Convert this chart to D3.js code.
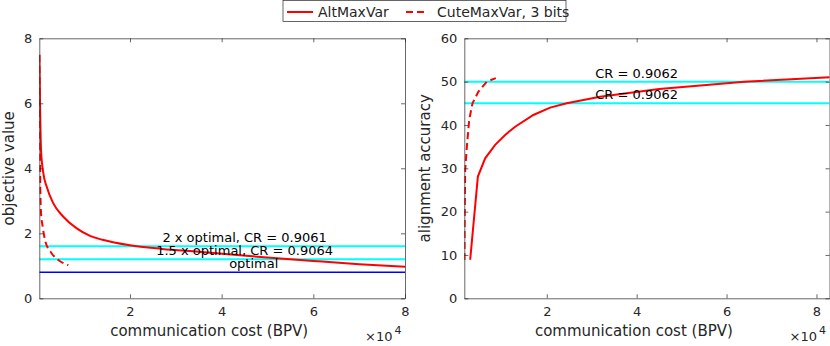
<!DOCTYPE html>
<html>
<head>
<meta charset="utf-8">
<script src="https://cdn.jsdelivr.net/npm/d3@7"></script>
<style>
  body { margin: 0; background: #fff; }
  svg text { font-family: "DejaVu Sans", "Liberation Sans", sans-serif; fill: #262626; }
</style>
</head>
<body>
<div id="wrapper"></div>
<script>
// ---- data ----
const objAltX = [220, 590, 1090, 1830, 3270, 5450, 8380, 11280, 14000, 20000, 27000, 35000, 46000, 60000, 70000, 80000]
const objAltY = [7.49, 4.56, 3.85, 3.43, 2.92, 2.51, 2.15, 1.92, 1.8, 1.63, 1.52, 1.43, 1.3, 1.15, 1.05, 0.97]
const objCuteX = [218, 300, 370, 440, 590, 960, 1460, 2920, 4360, 6550]
const objCuteY = [7.49, 5.8, 4.56, 3.33, 2.62, 2.2, 1.79, 1.38, 1.18, 1.02]

const accAltX = [2960, 4670, 6290, 8510, 10730, 12960, 17020, 20730, 24440, 31850, 45000, 64000, 83000]
const accAltY = [8.9, 28.1, 32.3, 35.4, 37.7, 39.6, 42.3, 44.0, 45.0, 46.5, 48.3, 50.0, 51.0]
const accCuteX = [1690, 1750, 1850, 2220, 2730, 3470, 4800, 6670, 8670]
const accCuteY = [8.85, 20, 29.6, 35, 41.1, 45, 47.7, 50, 50.8]

const xTicks = [20000, 40000, 60000, 80000]
const objTicks = [0, 2, 4, 6, 8]
const accTicks = [0, 10, 20, 30, 40, 50, 60]

const objRefLines = [
  { y: 1.6, color: "#00ffff", label: "2 x optimal, CR = 0.9061", lx: 45000 },
  { y: 1.2, color: "#00ffff", label: "1.5 x optimal, CR = 0.9064", lx: 45000 },
  { y: 0.8, color: "#0000ff", label: "optimal", lx: 47000 },
]
const accRefLines = [
  { y: 50, color: "#00ffff", label: "CR = 0.9062", lx: 40000 },
  { y: 45, color: "#00ffff", label: "CR = 0.9062", lx: 40000 },
]

const legendItems = ["AltMaxVar", "CuteMaxVar, 3 bits"]

// ---- canvas ----
const width = 830
const height = 346
const svg = d3.select("#wrapper").append("svg")
  .attr("width", width)
  .attr("height", height)

const axisColor = "#262626"

function drawPanel(cfg) {
  const xScale = d3.scaleLinear().domain(cfg.xDomain).range([cfg.left, cfg.right])
  const yScale = d3.scaleLinear().domain(cfg.yDomain).range([cfg.bottom, cfg.top])
  const g = svg.append("g")

  const clipId = "clip-" + cfg.id
  svg.append("clipPath").attr("id", clipId)
    .append("rect")
      .attr("x", cfg.left).attr("y", cfg.top)
      .attr("width", cfg.right - cfg.left).attr("height", cfg.bottom - cfg.top)

  // reference lines
  const plot = g.append("g").attr("clip-path", `url(#${clipId})`)
  cfg.refs.forEach(r => {
    plot.append("line")
      .attr("x1", cfg.left).attr("x2", cfg.right)
      .attr("y1", yScale(r.y)).attr("y2", yScale(r.y))
      .attr("stroke", r.color)
      .attr("stroke-width", r.color === "#0000ff" ? 1.6 : 2)
  })

  const line = d3.line().x(d => xScale(d[0])).y(d => yScale(d[1])).curve(cfg.curve)
  plot.append("path")
    .datum(d3.zip(cfg.altX, cfg.altY))
    .attr("d", line)
    .attr("fill", "none").attr("stroke", "#ff0000").attr("stroke-width", 2)
  plot.append("path")
    .datum(d3.zip(cfg.cuteX, cfg.cuteY))
    .attr("d", line)
    .attr("fill", "none").attr("stroke", "#ff0000").attr("stroke-width", 2)
    .attr("stroke-dasharray", "7,4")

  // labels on reference lines
  cfg.refs.forEach(r => {
    g.append("text")
      .attr("x", xScale(r.lx))
      .attr("y", yScale(r.y) - 4)
      .attr("text-anchor", "middle")
      .style("font-size", "13px")
      .style("fill", "#000")
      .text(r.label)
  })

  // axes (ticks pointing inward, box on)
  const xAxis = g.append("g")
    .attr("transform", `translate(0,${cfg.bottom})`)
    .call(d3.axisBottom(xScale).tickValues(xTicks).tickFormat(d => d / 10000).tickSizeInner(-4).tickSizeOuter(0).tickPadding(8))
  const xTop = g.append("g")
    .attr("transform", `translate(0,${cfg.top})`)
    .call(d3.axisTop(xScale).tickValues(xTicks).tickFormat("").tickSizeInner(-4).tickSizeOuter(0))
  const yAxis = g.append("g")
    .attr("transform", `translate(${cfg.left},0)`)
    .call(d3.axisLeft(yScale).tickValues(cfg.yTicks).tickSizeInner(-4).tickSizeOuter(0).tickPadding(7))
  const yRight = g.append("g")
    .attr("transform", `translate(${cfg.right},0)`)
    .call(d3.axisRight(yScale).tickValues(cfg.yTicks).tickFormat("").tickSizeInner(-4).tickSizeOuter(0))

  ;[xAxis, xTop, yAxis, yRight].forEach(a => {
    a.select(".domain").attr("stroke", axisColor).attr("stroke-width", 0.7)
    a.selectAll(".tick line").attr("stroke", axisColor).attr("stroke-width", 0.7)
    a.selectAll(".tick text").style("font-size", "13px").attr("fill", axisColor)
      .style("font-family", null)
  })

  // axis titles
  g.append("text")
    .attr("x", (cfg.left + cfg.right) / 2 - 13)
    .attr("y", 336)
    .attr("text-anchor", "middle")
    .style("font-size", "15px")
    .text("communication cost (BPV)")

  const exp = g.append("text")
    .attr("x", cfg.right - 40)
    .attr("y", 341)
    .style("font-size", "13px")
  exp.append("tspan").text("×10")
  exp.append("tspan").attr("dx", 2).attr("dy", -7).style("font-size", "11px").text("4")

  g.append("text")
    .attr("transform", `translate(${cfg.yLabelX},${(cfg.top + cfg.bottom) / 2}) rotate(-90)`)
    .attr("text-anchor", "middle")
    .style("font-size", "15px")
    .text(cfg.yLabel)
}

drawPanel({
  id: "obj", left: 39.3, right: 405, top: 38.3, bottom: 298.3,
  xDomain: [212, 80000], yDomain: [0, 8], yTicks: objTicks,
  altX: objAltX, altY: objAltY, cuteX: objCuteX, cuteY: objCuteY,
  refs: objRefLines, yLabel: "objective value", yLabelX: 14, curve: d3.curveMonotoneX,
})

drawPanel({
  id: "acc", left: 464.3, right: 829.5, top: 38.3, bottom: 298.3,
  xDomain: [1650, 82900], yDomain: [0, 60], yTicks: accTicks,
  altX: accAltX, altY: accAltY, cuteX: accCuteX, cuteY: accCuteY,
  refs: accRefLines, yLabel: "alignment accuracy", yLabelX: 430, curve: d3.curveLinear,
})

// ---- legend ----
const legend = svg.append("g")
legend.append("rect")
  .attr("x", 283).attr("y", 0.5).attr("width", 283).attr("height", 21)
  .attr("fill", "#fff").attr("stroke", axisColor).attr("stroke-width", 0.7)
const legendX = [287, 406]
legendItems.forEach((name, i) => {
  legend.append("line")
    .attr("x1", legendX[i]).attr("x2", legendX[i] + (i === 0 ? 26 : 21))
    .attr("y1", 12).attr("y2", 12)
    .attr("stroke", "#ff0000").attr("stroke-width", 2)
    .attr("stroke-dasharray", i === 0 ? null : "7,4")
  legend.append("text")
    .attr("x", legendX[i] + 31)
    .attr("y", 16.5)
    .style("font-size", "14px")
    .text(name)
})
</script>
</body>
</html>
